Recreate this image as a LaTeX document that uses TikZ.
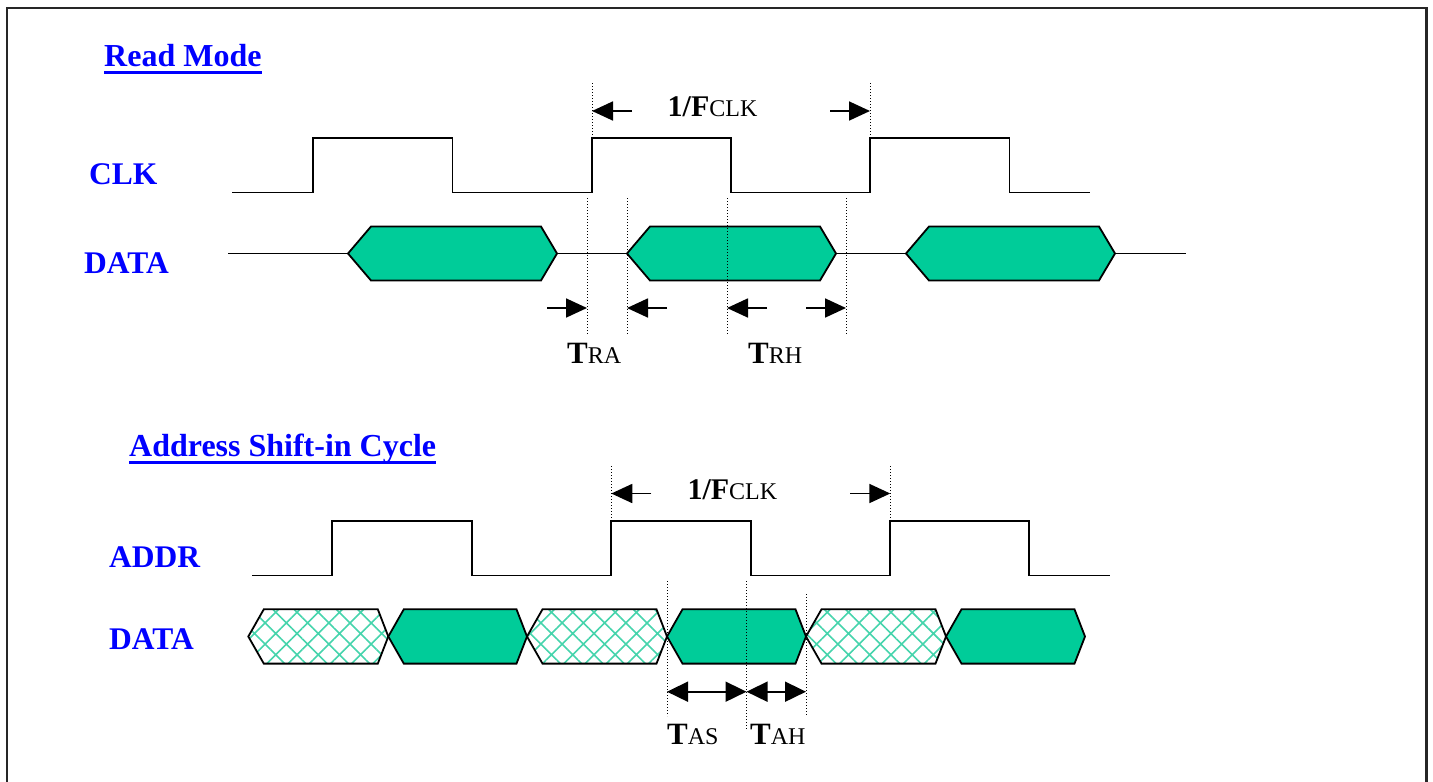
\documentclass[tikz,border=0pt]{standalone}
\usepackage{fontspec}
\setmainfont{Liberation Serif}
\usetikzlibrary{arrows.meta, patterns.meta, calc}

\definecolor{sigblue}{RGB}{0,0,255}
\definecolor{busgreen}{RGB}{0,204,153}
\definecolor{hatchgreen}{RGB}{70,212,172}

\tikzset{
	wave/.style={line width=1.8pt},
	bus/.style={draw, line width=1.8pt, fill=busgreen},
	busx/.style={draw, line width=1.8pt, pattern={Hatch[angle=45, distance=15pt, line width=1.6pt]}, pattern color=hatchgreen},
	guide/.style={line width=1pt, dash pattern=on 1pt off 2pt},
	dim/.style={line width=1.8pt, -{Triangle[length=21pt, width=19pt]}},
	dimboth/.style={line width=1.8pt, {Triangle[length=21pt, width=20pt]}-{Triangle[length=21pt, width=20pt]}},
	sig/.style={font=\fontsize{31.5}{32}\selectfont\bfseries, text=sigblue, inner sep=0pt, anchor=base west},
	title/.style={sig, font=\fontsize{32}{32}\selectfont\bfseries},
	tlabel/.style={inner sep=0pt, anchor=base west},
	uline/.style={sigblue, line width=3pt},
}
\newcommand{\timlab}[2]{{\fontsize{31}{31}\selectfont\bfseries #1}{\fontsize{24}{24}\selectfont #2}}
\newcommand{\perlab}{{\fontsize{30}{30}\selectfont\bfseries 1/F}{\fontsize{24}{24}\selectfont CLK}}

\begin{document}
\begin{tikzpicture}[x=1pt, y=-1pt]
	\useasboundingbox (0,0) rectangle (1433,782);
	
	% open frame
	\draw[line width=2.2pt, black!85] (7,782) -- (7,8.3) -- (1426.5,8.3) -- (1426.5,782);
	
	%%% Read Mode
	\node[title] (readtitle) at (104,66.5) {Read Mode};
	\draw[uline] ($(readtitle.base west)+(0,6)$) -- ($(readtitle.base east)+(0,6)$);
	
	\node[sig] (clk) at (89,184.3) {CLK};
	\node[sig] (data) at (84,273.3) {DATA};
	
	\draw[wave] (232,192.5) -- (313,192.5) -- (313,138.3) -- (452.5,138.3) -- (452.5,192.5)
		-- (592,192.5) -- (592,138.3) -- (731,138.3) -- (731,192.5)
		-- (870,192.5) -- (870,138.3) -- (1009.5,138.3) -- (1009.5,192.5) -- (1090,192.5);
	
	\draw[wave] (228,253.5) -- (348,253.5);
	\draw[wave] (557,253.5) -- (627,253.5);
	\draw[wave] (836,253.5) -- (906,253.5);
	\draw[wave] (1115,253.5) -- (1186,253.5);
	\foreach \a/\b in {348/557, 627/836, 906/1115}
		\draw[bus] (\a,253.5) -- (\a+23,226.5) -- (\b-16,226.5) -- (\b,253.5) -- (\b-16,280.5) -- (\a+23,280.5) -- cycle;
	
	% guides
	\foreach \x/\ya/\yb in {592/83/138.3, 870/83/138.3, 587/198/334, 627/198/334, 727/198/334, 846/198/334}
		\draw[guide] (\x,\ya) -- (\x,\yb);
	
	\coordinate (pa) at (592,111);
	\coordinate (pb) at (870,111);
	\coordinate (ra) at (587,308);
	\coordinate (rb) at (627,308);
	\coordinate (rc) at (727,308);
	\coordinate (rd) at (846,308);
	
	\draw[dim] ($(pa)+(40,0)$) -- (pa);
	\draw[dim] ($(pb)+(-40,0)$) -- (pb);
	\draw[dim] ($(ra)+(-40,0)$) -- (ra);
	\draw[dim] ($(rb)+(40,0)$) -- (rb);
	\draw[dim] ($(rc)+(40,0)$) -- (rc);
	\draw[dim] ($(rd)+(-40,0)$) -- (rd);
	
	\node[tlabel] (per1) at (667.5,116) {\perlab};
	\node[tlabel] (tra) at (567,363.3) {\timlab{T}{RA}};
	\node[tlabel] (trh) at (748,363.3) {\timlab{T}{RH}};
	
	%%% Address Shift-in Cycle
	\node[title] (addrtitle) at (129,456.5) {Address Shift-in Cycle};
	\draw[uline] ($(addrtitle.base west)+(0,6)$) -- ($(addrtitle.base east)+(0,6)$);
	
	\node[sig] (addr) at (109,567.7) {ADDR};
	\node[sig] (data2) at (109,649.3) {DATA};
	
	\draw[wave] (252,575.5) -- (332.3,575.5) -- (332.3,521) -- (471.7,521) -- (471.7,575.5)
		-- (611.3,575.5) -- (611.3,521) -- (750.7,521) -- (750.7,575.5)
		-- (890.3,575.5) -- (890.3,521) -- (1029.3,521) -- (1029.3,575.5) -- (1110,575.5);
	
	\foreach \a/\b in {248.3/388.3, 527/667, 806/946}
		\draw[busx] (\a,636.5) -- (\a+15.5,609.3) -- (\b-10.5,609.3) -- (\b,636.5) -- (\b-10.5,663.6) -- (\a+15.5,663.6) -- cycle;
	\foreach \a/\b in {388.3/527, 667/806, 946/1085}
		\draw[bus] (\a,636.5) -- (\a+15.5,609.3) -- (\b-10.5,609.3) -- (\b,636.5) -- (\b-10.5,663.6) -- (\a+15.5,663.6) -- cycle;
	
	% guides
	\foreach \x/\ya/\yb in {611.3/466/521, 890.3/466/521, 667/581/716, 746.5/581/730, 806/594/715}
		\draw[guide] (\x,\ya) -- (\x,\yb);
	
	\coordinate (qa) at (611.3,493.5);
	\coordinate (qb) at (890.3,493.5);
	\coordinate (sa) at (667,691.7);
	\coordinate (sb) at (746.5,691.7);
	\coordinate (sc) at (806,691.7);
	
	\draw[dim] ($(qa)+(40,0)$) -- (qa);
	\draw[dim] ($(qb)+(-40,0)$) -- (qb);
	\draw[dimboth] (sa) -- (sb);
	\draw[dimboth] (sb) -- (sc);
	
	\node[tlabel] (per2) at (687.3,499.3) {\perlab};
	\node[tlabel] (tas) at (667,744) {\timlab{T}{AS}};
	\node[tlabel] (tah) at (750,744) {\timlab{T}{AH}};
\end{tikzpicture}
\end{document}
